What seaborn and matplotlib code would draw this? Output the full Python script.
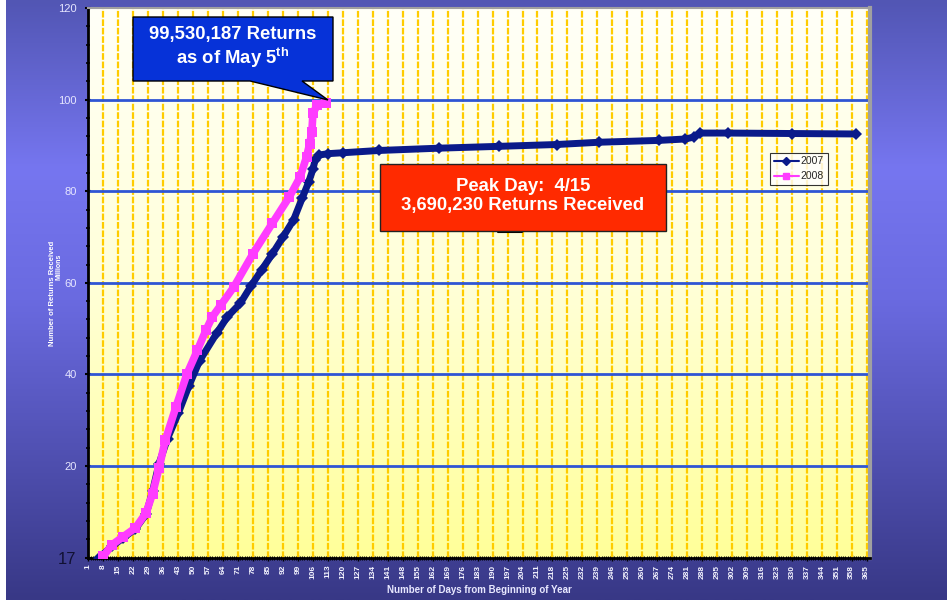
import numpy as np
import pandas as pd
import matplotlib
matplotlib.use('Agg')
import matplotlib.pyplot as plt
import seaborn as sns
from matplotlib.colors import LinearSegmentedColormap
from matplotlib.patches import Polygon
from matplotlib.lines import Line2D

# Cumulative returns received (millions) by day of year
days_2007 = [6, 12, 17, 23, 28, 31, 34, 38, 43, 48, 53, 61, 66, 72, 77, 82, 87, 92, 97,
             101, 104, 106, 107, 109, 113, 120, 137, 165, 193, 220, 240, 268, 280, 284,
             287, 300, 330, 360]
returns_2007 = [0, 2.5, 4.2, 6.3, 9.5, 14.5, 20.5, 26, 31.5, 37.5, 43, 49, 52.6, 55.5, 59.3,
                62.8, 66.3, 70, 73.8, 78.5, 82, 84.8, 86.8, 87.9, 88.2, 88.4, 88.9, 89.4,
                89.8, 90.2, 90.7, 91.1, 91.4, 91.8, 92.7, 92.7, 92.6, 92.5]

days_2008 = [8, 12, 17, 23, 28, 31, 34, 37, 42, 47, 52, 56, 59, 63, 69, 78, 87, 95, 100,
             103, 104.5, 105.5, 106, 108, 112]
returns_2008 = [0.3, 2.8, 4.5, 6.5, 9.8, 14, 19.5, 25.7, 33, 40, 45.3, 49.7, 52.6, 55.2, 59.1,
                66.4, 73, 78.8, 83.1, 87.5, 90.4, 93, 97, 98.8, 99.3]

tick_days = list(range(1, 366, 7))
y_ticks = [0, 20, 40, 60, 80, 100, 120]
y_tick_labels = ['17', '20', '40', '60', '80', '100', '120']

sns.set_style('ticks')
plt.rcParams['font.family'] = ['Liberation Sans', 'DejaVu Sans']
plt.rcParams['mathtext.fontset'] = 'custom'
plt.rcParams['mathtext.bf'] = 'Liberation Sans:bold'
plt.rcParams['mathtext.rm'] = 'Liberation Sans:bold'

W, H = 953, 600
fig = plt.figure(figsize=(W / 100, H / 100), dpi=100, facecolor='white')


def fx(px):
    return px / W


def fy(py):
    return 1 - py / H


# slide background gradient
bg = fig.add_axes([fx(6), 0, fx(947) - fx(6), 1], zorder=-10)
bg_cmap = LinearSegmentedColormap.from_list(
    'bg', [(0, '#5256b4'), (0.28, '#7676f0'), (0.5, '#6a6ae0'), (1, '#383886')])
bg.imshow(np.linspace(0, 1, 256).reshape(-1, 1), aspect='auto', cmap=bg_cmap,
          extent=[0, 1, 0, 1], origin='upper')
bg.axis('off')

ax = fig.add_axes([fx(88.4), fy(557.7), fx(870) - fx(88.4), fy(8) - fy(557.7)])

# plot area gradient
plot_cmap = LinearSegmentedColormap.from_list('pa', ['#fffff8', '#ffffd8', '#ffff99'])
ax.imshow(np.linspace(0, 1, 256).reshape(-1, 1), aspect='auto', cmap=plot_cmap,
          extent=[1, 366.5, 0, 120], origin='upper', zorder=0)

for d in tick_days:
    ax.axvline(d, color='#ffcc00', lw=1.6, ls=(0, (3, 0.8)), zorder=1)
for yv in y_ticks[1:-1]:
    ax.axhline(yv, color='#2f55d4', lw=2, zorder=1)

sns.lineplot(x=days_2007, y=returns_2007, ax=ax, color='#0a1a8a', lw=5, marker='D',
             markersize=6, markeredgewidth=0, sort=False, zorder=4)
sns.lineplot(x=days_2008, y=returns_2008, ax=ax, color='#ff3cff', lw=5.5, marker='s',
             markersize=6.5, markeredgewidth=0, sort=False, zorder=5)

ax.set_xlim(1, 366.5)
ax.set_ylim(0, 120)

# ticks
ax.set_xticks(tick_days)
ax.set_xticklabels([str(d) for d in tick_days], rotation=90, fontsize=6,
                   fontweight='bold', color='#f4f4ff')
ax.set_xticks(range(1, 366), minor=True)
ax.tick_params(axis='x', which='major', direction='inout', length=4, width=1,
               color='black', pad=3)
ax.tick_params(axis='x', which='minor', direction='inout', length=2.5, width=0.8,
               color='black')
ax.set_yticks(y_ticks)
ax.set_yticklabels(y_tick_labels, fontsize=8, color='#e6e6ff')
ax.set_yticks(range(0, 121, 4), minor=True)
ax.tick_params(axis='y', which='major', direction='inout', length=5, width=1.5,
               color='black', pad=6)
ax.tick_params(axis='y', which='minor', direction='inout', length=3, width=1.2,
               color='black')
lbl17 = ax.get_yticklabels()[0]
lbl17.set_color('#111133')
lbl17.set_fontsize(12)

for side in ['left', 'bottom']:
    ax.spines[side].set_color('black')
    ax.spines[side].set_linewidth(2)
ax.spines['right'].set_color('#a0a0a0')
ax.spines['right'].set_linewidth(3)
ax.spines['top'].set_color('#a0a0a0')
ax.spines['top'].set_linewidth(1.5)

# axis titles
fig.text(fx(479), fy(590), 'Number of Days from Beginning of Year', ha='center',
         va='center', fontsize=7, fontweight='bold', color='#e8e8ff')
fig.text(fx(52), fy(293), 'Number of Returns Received', ha='center', va='center',
         rotation=90, fontsize=5.5, fontweight='bold', color='white')
fig.text(fx(59), fy(267), 'Millions', ha='center', va='center',
         rotation=90, fontsize=5, fontweight='bold', color='white')

# legend
handles = [Line2D([0], [0], color='#0a1a8a', lw=1.5, marker='D', markersize=4),
           Line2D([0], [0], color='#ff3cff', lw=1.5, marker='s', markersize=5)]
leg = ax.legend(handles=handles, labels=['2007', '2008'], loc='upper left',
                bbox_to_anchor=(0.872, 0.737), fontsize=7.5, frameon=True,
                fancybox=False, edgecolor='black', handlelength=2.4,
                handletextpad=0.2, borderpad=0.35, labelspacing=0.5,
                borderaxespad=0)
leg.get_frame().set_linewidth(0.8)
leg.set_zorder(6)


def to_fig(points):
    return [(fx(x), fy(y)) for x, y in points]


# blue callout
blue = to_fig([(133, 17), (333, 17), (333, 81), (302, 81), (328, 100), (250, 81), (133, 81)])
fig.patches.append(Polygon(blue, closed=True, facecolor='#0632d8', edgecolor='black',
                           lw=1, transform=fig.transFigure, zorder=8))
fig.text(fx(233), fy(48), '99,530,187 Returns\nas of May 5$^{\\mathbf{th}}$', ha='center',
         va='center', fontsize=13.3, fontweight='bold', color='white', linespacing=1.2,
         zorder=9)

# red box
red = to_fig([(380, 164), (666, 164), (666, 231), (380, 231)])
fig.patches.append(Polygon(red, closed=True, facecolor='#ff2a00', edgecolor='#222222',
                           lw=1, transform=fig.transFigure, zorder=8))
fig.lines.append(Line2D([fx(498), fx(522)], [fy(232), fy(232)], color='black', lw=1.5,
                        transform=fig.transFigure, zorder=8))
fig.text(fx(523), fy(196), 'Peak Day:  4/15\n3,690,230 Returns Received', ha='center',
         va='center', fontsize=13.3, fontweight='bold', color='white', linespacing=1.2,
         zorder=9)

fig.savefig('out.png', dpi=100)
